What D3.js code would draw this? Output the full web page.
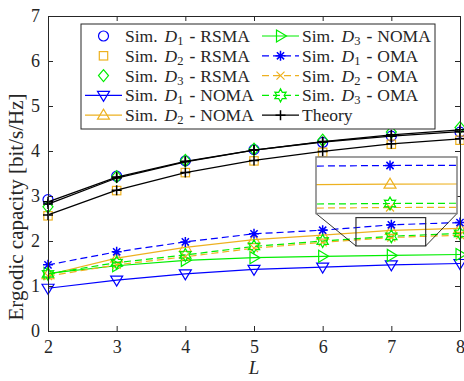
<!DOCTYPE html>
<html>
<head>
<meta charset="utf-8">
<script src="https://cdn.jsdelivr.net/npm/d3@7"></script>
<style>
  body { margin: 0; background: #fff; }
  text { font-family: "Liberation Serif", "Times New Roman", serif; fill: #262626; }
</style>
</head>
<body>
<div id="chart"></div>
<script>
// x values (number of ... L)
const L = [2, 3, 4, 5, 6, 7, 8];

// RSMA simulation + theory
const simD1RSMA = [2.92, 3.44, 3.78, 4.03, 4.19, 4.33, 4.42];
const simD2RSMA = [2.56, 3.12, 3.52, 3.78, 3.97, 4.15, 4.24];
const simD3RSMA = [2.76, 3.43, 3.79, 4.04, 4.24, 4.42, 4.52];
const theoryD1 = [2.87, 3.42, 3.77, 4.02, 4.20, 4.33, 4.43];
const theoryD2 = [2.58, 3.13, 3.52, 3.79, 3.99, 4.16, 4.27];
const theoryD3 = [2.82, 3.40, 3.76, 4.02, 4.21, 4.36, 4.47];

// NOMA
const simD1NOMA = [0.95, 1.13, 1.27, 1.37, 1.42, 1.47, 1.50];
const simD2NOMA = [1.25, 1.62, 1.86, 2.03, 2.13, 2.235, 2.28];
const simD3NOMA = [1.28, 1.45, 1.57, 1.63, 1.66, 1.68, 1.70];

// OMA
const simD1OMA = [1.47, 1.76, 1.98, 2.16, 2.24, 2.36, 2.41];
const simD2OMA = [1.22, 1.47, 1.65, 1.84, 1.97, 2.078, 2.13];
const simD3OMA = [1.27, 1.52, 1.69, 1.88, 2.00, 2.105, 2.17];

const xTicks = [2, 3, 4, 5, 6, 7, 8];
const yTicks = [0, 1, 2, 3, 4, 5, 6, 7];

const BLUE = "#0000ff", ORANGE = "#edb120", GREEN = "#00ee00", BLACK = "#000";

// series table built from the arrays above
const series = [
  {name: ["D", "1", "RSMA"], y: simD1RSMA, color: BLUE, marker: "circle", line: null},
  {name: ["D", "2", "RSMA"], y: simD2RSMA, color: ORANGE, marker: "square", line: null},
  {name: ["D", "3", "RSMA"], y: simD3RSMA, color: GREEN, marker: "diamond", line: null},
  {name: ["D", "1", "NOMA"], y: simD1NOMA, color: BLUE, marker: "triDown", line: "solid"},
  {name: ["D", "2", "NOMA"], y: simD2NOMA, color: ORANGE, marker: "triUp", line: "solid"},
  {name: ["D", "3", "NOMA"], y: simD3NOMA, color: GREEN, marker: "triRight", line: "solid"},
  {name: ["D", "1", "OMA"], y: simD1OMA, color: BLUE, marker: "asterisk", line: "dash"},
  {name: ["D", "2", "OMA"], y: simD2OMA, color: ORANGE, marker: "cross", line: "dash"},
  {name: ["D", "3", "OMA"], y: simD3OMA, color: GREEN, marker: "hexagram", line: "dash"},
  {name: null, y: theoryD1, color: BLACK, marker: "plus", line: "solid"},
  {name: null, y: theoryD2, color: BLACK, marker: "plus", line: "solid"},
  {name: null, y: theoryD3, color: BLACK, marker: "plus", line: "solid"}
];

const W = 464, H = 381;
const margin = {top: 16, right: 4, bottom: 50, left: 48};
const width = W - margin.left - margin.right;
const height = H - margin.top - margin.bottom;

const svg = d3.select("#chart").append("svg")
  .attr("width", W).attr("height", H);

const g = svg.append("g")
  .attr("transform", "translate(" + margin.left + "," + margin.top + ")");

const x = d3.scaleLinear().domain([2, 8]).range([0, width]);
const y = d3.scaleLinear().domain([0, 7]).range([height, 0]);

// draw one marker at (px, py)
function marker(sel, type, px, py, color) {
  const m = sel.append("g").attr("transform", "translate(" + px + "," + py + ")")
    .attr("fill", "none").attr("stroke", color).attr("stroke-width", 1.2);
  if (type === "circle") m.append("circle").attr("r", 5);
  else if (type === "square") m.append("rect").attr("x", -4.2).attr("y", -4.2).attr("width", 8.4).attr("height", 8.4);
  else if (type === "diamond") m.append("path").attr("d", "M0,-6L5,0L0,6L-5,0Z");
  else if (type === "triDown") m.append("path").attr("d", "M-6,-4L6,-4L0,6Z");
  else if (type === "triUp") m.append("path").attr("d", "M-6,4L6,4L0,-6Z");
  else if (type === "triRight") m.append("path").attr("d", "M-4,-6L-4,6L6,0Z");
  else if (type === "plus") m.append("path").attr("d", "M-5,0H5M0,-5V5").attr("stroke-width", 1.5);
  else if (type === "cross") m.append("path").attr("d", "M-4,-4L4,4M-4,4L4,-4");
  else if (type === "asterisk") m.append("path").attr("d", "M-5,0H5M0,-5V5M-3.6,-3.6L3.6,3.6M-3.6,3.6L3.6,-3.6").attr("stroke-width", 1.5);
  else if (type === "hexagram") {
    const pts = d3.range(12).map(i => {
      const a = -Math.PI / 2 + i * Math.PI / 6;
      const r = i % 2 === 0 ? 6.5 : 3.6;
      return [r * Math.cos(a), r * Math.sin(a)];
    });
    m.append("path").attr("d", "M" + pts.join("L") + "Z");
  }
}

function dashOf(s) { return s.line === "dash" ? "7,4" : null; }

function drawSeries(sel, sx, sy, xs) {
  series.forEach(s => {
    const pts = xs.map(i => [L[i], s.y[i]]);
    if (s.line) {
      sel.append("path")
        .datum(pts)
        .attr("fill", "none")
        .attr("stroke", s.color)
        .attr("stroke-width", s.color === BLACK ? 1.3 : 1.2)
        .attr("stroke-dasharray", dashOf(s))
        .attr("d", d3.line().x(d => sx(d[0])).y(d => sy(d[1])));
    }
    pts.forEach(d => marker(sel, s.marker, sx(d[0]), sy(d[1]), s.color));
  });
}

drawSeries(g, x, y, d3.range(L.length));

// axes (box with inward ticks)
const axisColor = "#262626";
const fmt = d3.format("d");
g.append("g").attr("transform", "translate(0," + height + ")")
  .call(d3.axisBottom(x).tickValues(xTicks).tickSizeInner(-5).tickSizeOuter(0).tickPadding(9).tickFormat(fmt))
  .call(a => a.selectAll("text").attr("font-size", 18));
g.append("g")
  .call(d3.axisTop(x).tickValues(xTicks).tickSizeInner(-5).tickSizeOuter(0).tickFormat(""));
g.append("g")
  .call(d3.axisLeft(y).tickValues(yTicks).tickSizeInner(-5).tickSizeOuter(0).tickPadding(8).tickFormat(fmt))
  .call(a => a.selectAll("text").attr("font-size", 18));
g.append("g").attr("transform", "translate(" + width + ",0)")
  .call(d3.axisRight(y).tickValues(yTicks).tickSizeInner(-5).tickSizeOuter(0).tickFormat(""));
g.selectAll("g").attr("font-family", "Liberation Serif");
g.selectAll(".domain, .tick line").attr("stroke", axisColor);
g.selectAll(".tick text").attr("fill", axisColor);
g.selectAll(".domain").attr("stroke-width", 1);

// axis labels
svg.append("text")
  .attr("x", margin.left + width / 2).attr("y", 374)
  .attr("text-anchor", "middle").attr("font-size", 19).attr("font-style", "italic")
  .text("L");
svg.append("text")
  .attr("transform", "translate(23," + 207 + ") rotate(-90)")
  .attr("text-anchor", "middle").attr("font-size", 21)
  .text("Ergodic capacity [bit/s/Hz]");

// zoom rectangle on main plot and inset axes
const zoomBox = {x0: 6.485, x1: 7.5, y0: 1.89, y1: 2.52};
const rx0 = x(zoomBox.x0), rx1 = x(zoomBox.x1), ry0 = y(zoomBox.y1), ry1 = y(zoomBox.y0);
g.append("rect").attr("x", rx0).attr("y", ry0).attr("width", rx1 - rx0).attr("height", ry1 - ry0)
  .attr("fill", "none").attr("stroke", "#333").attr("stroke-width", 1.2);

const inset = {left: 268, top: 141, w: 141, h: 56.5};
g.append("line").attr("x1", inset.left).attr("y1", inset.top + inset.h).attr("x2", rx0).attr("y2", ry1)
  .attr("stroke", "#000").attr("stroke-width", 0.8);
g.append("line").attr("x1", inset.left + inset.w).attr("y1", inset.top + inset.h).attr("x2", rx1).attr("y2", ry1)
  .attr("stroke", "#000").attr("stroke-width", 0.8);

const ix = d3.scaleLinear().domain([6.9685, 7.0285]).range([0, inset.w]);
const iy = d3.scaleLinear().domain([2.038, 2.417]).range([inset.h, 0]);

const ig = g.append("g").attr("transform", "translate(" + inset.left + "," + inset.top + ")");
ig.append("defs").append("clipPath").attr("id", "insetClip")
  .append("rect").attr("width", inset.w).attr("height", inset.h);
ig.append("rect").attr("width", inset.w).attr("height", inset.h).attr("fill", "#fff");
const igc = ig.append("g").attr("clip-path", "url(#insetClip)");
drawSeries(igc, ix, iy, [4, 5, 6].filter(i => i < L.length));
ig.append("rect").attr("width", inset.w).attr("height", inset.h)
  .attr("fill", "none").attr("stroke", "#808080").attr("stroke-width", 1.5);

// legend
const leg = svg.append("g").attr("transform", "translate(81,24)");
leg.append("rect").attr("width", 354).attr("height", 105)
  .attr("fill", "#fff").attr("stroke", axisColor).attr("stroke-width", 1);

const legItems = series.filter(s => s.name).concat([{theory: true, color: BLACK, marker: "plus", line: "solid"}]);
legItems.forEach((s, i) => {
  const col = i < 5 ? 0 : 1;
  const row = i % 5;
  const lx = col === 0 ? 4 : 181;
  const ly = 12 + row * 19.8;
  const item = leg.append("g").attr("transform", "translate(" + lx + "," + ly + ")");
  if (s.line) {
    item.append("line").attr("x1", 0).attr("x2", 37).attr("y1", 0).attr("y2", 0)
      .attr("stroke", s.color).attr("stroke-width", 1.2).attr("stroke-dasharray", dashOf(s));
  }
  marker(item, s.marker, 18.5, 0, s.color);
  const t = item.append("text").attr("x", 40).attr("y", 6).attr("font-size", 17.5).attr("fill", "#000");
  if (s.theory) {
    t.text("Theory");
  } else {
    t.append("tspan").text("Sim.");
    t.append("tspan").attr("dx", 7).attr("font-style", "italic").text(s.name[0]);
    t.append("tspan").attr("font-size", 12.5).attr("dy", 3).text(s.name[1]);
    t.append("tspan").attr("dy", -3).attr("dx", 6).attr("font-weight", "bold").text("-");
    t.append("tspan").attr("dx", 5).text(s.name[2]);
  }
});
</script>
</body>
</html>
